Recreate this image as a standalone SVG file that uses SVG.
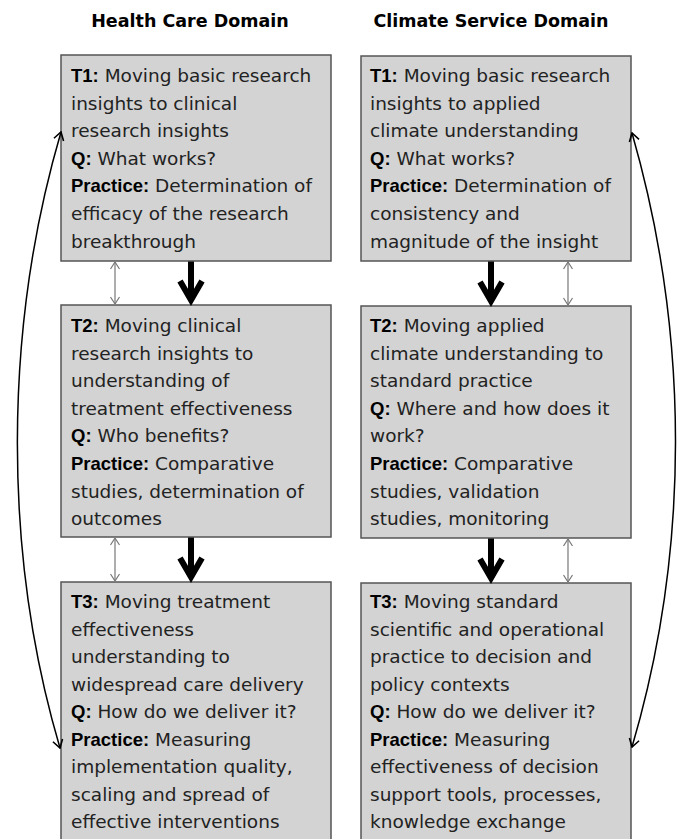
<svg xmlns="http://www.w3.org/2000/svg" width="684" height="839" viewBox="0 0 684 839">
<style>
.box{fill:#d3d3d3;stroke:#555;stroke-width:1.5}
.hdr{font-family:"DejaVu Sans",sans-serif;font-weight:bold;font-size:17.5px;fill:#000;text-anchor:middle}
.t{font-family:"DejaVu Sans",sans-serif;font-size:18.5px;fill:#222}
.b{font-family:"Liberation Sans",Arial,sans-serif;font-weight:bold;fill:#000}
.thick{stroke:#000;stroke-width:6;fill:none}
.thin{stroke:#777;stroke-width:1.2;fill:none;marker-start:url(#ga);marker-end:url(#ga)}
.curve{stroke:#000;stroke-width:1.5;fill:none;marker-start:url(#ba);marker-end:url(#ba)}
</style>
<defs>
<marker id="ga" viewBox="0 0 10 10" refX="10" refY="5" markerWidth="10" markerHeight="10" markerUnits="userSpaceOnUse" orient="auto-start-reverse">
<path d="M3,0.5 L10,5 L3,9.5" fill="none" stroke="#777" stroke-width="1.2"/>
</marker>
<marker id="ba" viewBox="0 0 12 12" refX="11" refY="6" markerWidth="12" markerHeight="12" markerUnits="userSpaceOnUse" orient="auto-start-reverse">
<path d="M3,1 L11,6 L3,11" fill="none" stroke="#000" stroke-width="1.6"/>
</marker>
</defs>
<rect width="684" height="839" fill="#fff"/>
<text class="hdr" x="190" y="27">Health Care Domain</text>
<text class="hdr" x="491" y="27">Climate Service Domain</text>

<g id="hc-t1">
<rect class="box" x="61" y="55" width="270" height="206"/>
<text class="t" x="71" y="82"><tspan class="b">T1:</tspan> Moving basic research</text>
<text class="t" x="71" y="109.6">insights to clinical</text>
<text class="t" x="71" y="137.2">research insights</text>
<text class="t" x="71" y="164.8"><tspan class="b">Q:</tspan> What works?</text>
<text class="t" x="71" y="192.4"><tspan class="b">Practice:</tspan> Determination of</text>
<text class="t" x="71" y="220">efficacy of the research</text>
<text class="t" x="71" y="247.6">breakthrough</text>
</g>
<g id="hc-t2">
<rect class="box" x="61" y="305" width="270" height="232"/>
<text class="t" x="71" y="332"><tspan class="b">T2:</tspan> Moving clinical</text>
<text class="t" x="71" y="359.6">research insights to</text>
<text class="t" x="71" y="387.2">understanding of</text>
<text class="t" x="71" y="414.8">treatment effectiveness</text>
<text class="t" x="71" y="442.4"><tspan class="b">Q:</tspan> Who benefits?</text>
<text class="t" x="71" y="470"><tspan class="b">Practice:</tspan> Comparative</text>
<text class="t" x="71" y="497.6">studies, determination of</text>
<text class="t" x="71" y="525.2">outcomes</text>
</g>
<g id="hc-t3">
<rect class="box" x="61" y="582" width="270" height="300"/>
<text class="t" x="71" y="608"><tspan class="b">T3:</tspan> Moving treatment</text>
<text class="t" x="71" y="635.5">effectiveness</text>
<text class="t" x="71" y="663">understanding to</text>
<text class="t" x="71" y="690.5">widespread care delivery</text>
<text class="t" x="71" y="718"><tspan class="b">Q:</tspan> How do we deliver it?</text>
<text class="t" x="71" y="745.5"><tspan class="b">Practice:</tspan> Measuring</text>
<text class="t" x="71" y="773">implementation quality,</text>
<text class="t" x="71" y="800.5">scaling and spread of</text>
<text class="t" x="71" y="828">effective interventions</text>
</g>

<g id="cs-t1">
<rect class="box" x="361" y="56" width="270" height="205"/>
<text class="t" x="370" y="82"><tspan class="b">T1:</tspan> Moving basic research</text>
<text class="t" x="370" y="109.6">insights to applied</text>
<text class="t" x="370" y="137.2">climate understanding</text>
<text class="t" x="370" y="164.8"><tspan class="b">Q:</tspan> What works?</text>
<text class="t" x="370" y="192.4"><tspan class="b">Practice:</tspan> Determination of</text>
<text class="t" x="370" y="220">consistency and</text>
<text class="t" x="370" y="247.6">magnitude of the insight</text>
</g>
<g id="cs-t2">
<rect class="box" x="361" y="306" width="270" height="232"/>
<text class="t" x="370" y="332"><tspan class="b">T2:</tspan> Moving applied</text>
<text class="t" x="370" y="359.6">climate understanding to</text>
<text class="t" x="370" y="387.2">standard practice</text>
<text class="t" x="370" y="414.8"><tspan class="b">Q:</tspan> Where and how does it</text>
<text class="t" x="370" y="442.4">work?</text>
<text class="t" x="370" y="470"><tspan class="b">Practice:</tspan> Comparative</text>
<text class="t" x="370" y="497.6">studies, validation</text>
<text class="t" x="370" y="525.2">studies, monitoring</text>
</g>
<g id="cs-t3">
<rect class="box" x="361" y="583" width="270" height="300"/>
<text class="t" x="370" y="608"><tspan class="b">T3:</tspan> Moving standard</text>
<text class="t" x="370" y="635.5">scientific and operational</text>
<text class="t" x="370" y="663">practice to decision and</text>
<text class="t" x="370" y="690.5">policy contexts</text>
<text class="t" x="370" y="718"><tspan class="b">Q:</tspan> How do we deliver it?</text>
<text class="t" x="370" y="745.5"><tspan class="b">Practice:</tspan> Measuring</text>
<text class="t" x="370" y="773">effectiveness of decision</text>
<text class="t" x="370" y="800.5">support tools, processes,</text>
<text class="t" x="370" y="828">knowledge exchange</text>
</g>

<g id="connectors">
<path class="thick" d="M191,261.5 V301"/>
<path class="thick" d="M180,281 L191,300 L202,281"/>
<path class="thick" d="M191,537.5 V578"/>
<path class="thick" d="M180,558 L191,577 L202,558"/>
<path class="thick" d="M491,261.5 V302"/>
<path class="thick" d="M480,282 L491,301 L502,282"/>
<path class="thick" d="M491,538.5 V579"/>
<path class="thick" d="M480,559 L491,578 L502,559"/>
<path class="thin" d="M115,262 V304"/>
<path class="thin" d="M115,538 V581"/>
<path class="thin" d="M568,262 V305"/>
<path class="thin" d="M568,539 V582"/>
<path class="curve" d="M61,132 C3,330 3,555 60,748"/>
<path class="curve" d="M632,133 C690,335 690,550 632,747"/>
</g>
</svg>
